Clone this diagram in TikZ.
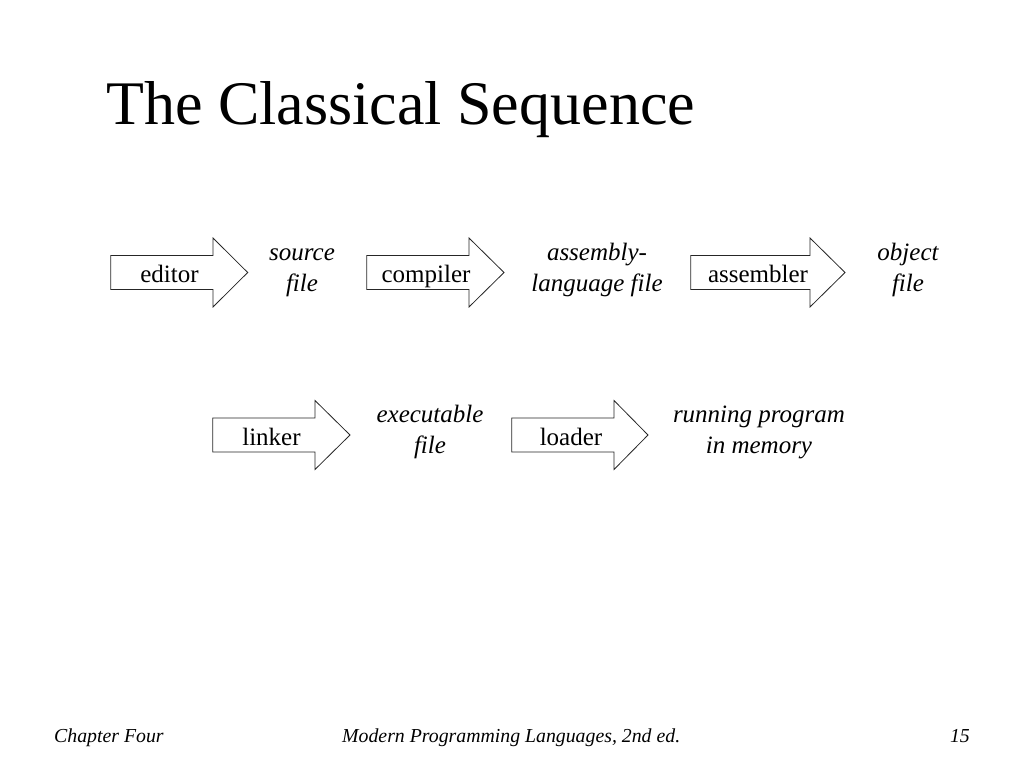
\documentclass[tikz,border=0pt]{standalone}
\usepackage{fontspec}
\setmainfont{Liberation Serif}
\begin{document}
\begin{tikzpicture}
  [x=1pt,y=-1pt,every node/.style={inner sep=0pt},
   box/.style={draw=black!85,line width=.8pt,line join=miter},
   lbl/.style={anchor=base,font=\fontsize{25}{31}\selectfont},
   product/.style={anchor=base,align=center,font=\fontsize{25}{31}\selectfont\itshape},
   foot/.style={anchor=base,font=\fontsize{19.8}{23}\selectfont\itshape}]
  \useasboundingbox (0,0) rectangle (1024,768);
  \node (title)[anchor=base west,font=\fontsize{62}{70}\selectfont] at (106,124) {The Classical Sequence};
  % arrows: left end / head base / tip / middle
  \foreach \l/\b/\t/\y in {110.7/213/247.7/272.5,366.7/469/504/272.5,690.7/810/845/272.5,
                            212.7/315/350/435,511.7/614/648/435}
    \draw[box] (\l,\y-17) -- (\b,\y-17) -- (\b,\y-34.5) -- (\t,\y)
      -- (\b,\y+34.5) -- (\b,\y+17) -- (\l,\y+17) -- cycle;
  \node (editor)[lbl] at (169.5,282) {editor};
  \node (compiler)[lbl] at (426,282) {compiler};
  \node (assembler)[lbl] at (758,282) {assembler};
  \node (linker)[lbl] at (271.5,445) {linker};
  \node (loader)[lbl] at (571,445) {loader};
  % base anchor sits on the last line
  \node (source)[product] at (302,291) {source\\file};
  \node (asm)[product] at (597,291) {assembly-\\language file};
  \node (object)[product] at (908,291) {object\\file};
  \node (exe)[product] at (430,453) {executable\\file};
  \node (running)[product] at (759,453) {running program\\in memory};
  \node (chapter)[foot,anchor=base west] at (54,742) {Chapter Four};
  \node (book)[foot,anchor=base west] at (342,742) {Modern Programming Languages, 2nd ed.};
  \node (page)[foot,anchor=base east] at (970,742) {15};
\end{tikzpicture}
\end{document}
